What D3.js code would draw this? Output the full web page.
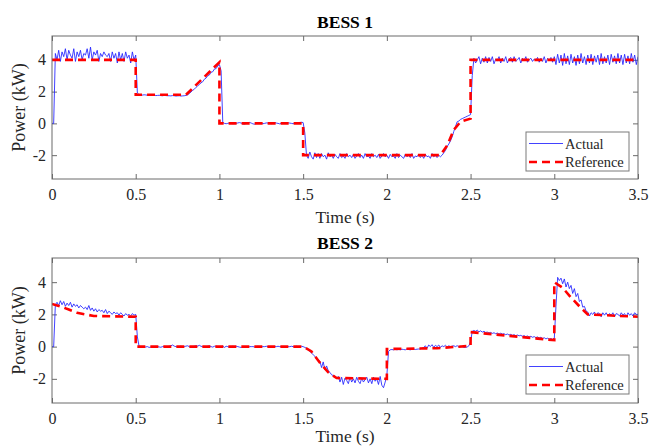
<!DOCTYPE html>
<html>
<head>
<meta charset="utf-8">
<script src="https://cdn.jsdelivr.net/npm/d3@7"></script>
<style>
	body { margin: 0; background: #fff; }
	svg text { font-family: "Liberation Serif", "Times New Roman", "DejaVu Serif", serif; }
</style>
</head>
<body>
<svg id="chart" width="649" height="448"></svg>
<script>
// time axis / value axis
var timeTicks = [0, 0.5, 1, 1.5, 2, 2.5, 3, 3.5];
var powerTicks = [-2, 0, 2, 4];
var timeRange = [0, 3.5];
var powerRange = [-3.5, 5.5];
var sampleStep = 0.01; // measured samples, one every 10 ms (rows of 0.1 s)

// BESS 1 measured power (kW)
var bess1Actual = [
	0, 0, 4.4, 4.0, 4.6, 3.9, 4.5, 4.2, 4.7, 4.0,
	4.6, 4.3, 4.1, 4.7, 3.9, 4.5, 4.2, 4.6, 4.0, 4.4,
	4.3, 4.7, 4.1, 4.8, 4.0, 4.5, 4.3, 4.6, 3.9, 4.4,
	4.2, 4.5, 4.3, 4.2, 4.4, 3.9, 4.5, 4.1, 4.4, 3.8,
	4.5, 4.0, 4.4, 3.9, 4.5, 4.1, 4.3, 3.8, 4.5, 4.0,
	4.3, 1.9, 1.82, 1.8, 1.78, 1.8, 1.79, 1.77, 1.78, 1.76,
	1.77, 1.78, 1.75, 1.76, 1.77, 1.75, 1.74, 1.76, 1.75, 1.74,
	1.74, 1.73, 1.75, 1.74, 1.72, 1.73, 1.74, 1.72, 1.73, 1.74,
	1.76, 1.80, 1.88, 1.97, 2.08, 2.15, 2.27, 2.36, 2.45, 2.55,
	2.62, 2.78, 2.85, 3.0, 3.05, 3.22, 3.25, 3.42, 3.45, 3.62,
	3.7, 3.3, 0.05, 0.0, -0.02, 0.0, 0.03, 0.01, -0.02, -0.01,
	0.0, 0.03, 0.05, 0.02, -0.03, -0.05, 0.0, 0.04, 0.06, 0.02,
	-0.03, -0.05, 0.0, 0.03, 0.05, 0.02, -0.02, 0.0, 0.03, 0.02,
	0.0, -0.02, 0.03, 0.05, 0.02, 0.0, -0.03, 0.0, 0.04, 0.02,
	0.0, 0.03, 0.02, 0.0, -0.02, 0.02, 0.04, 0.05, 0.06, 0.07,
	0.05, -0.6, -2.0, -2.2, -1.8, -2.1, -2.25, -1.85, -2.15, -1.9,
	-2.2, -1.9, -2.1, -2.0, -2.25, -1.85, -2.1, -2.0, -2.2, -1.95,
	-2.1, -2.2, -1.9, -2.15, -2.05, -2.2, -1.9, -2.1, -2.0, -2.15,
	-1.95, -2.2, -2.05, -1.9, -2.15, -2.0, -2.2, -1.9, -2.1, -2.05,
	-2.2, -1.9, -2.1, -2.0, -2.15, -1.95, -2.2, -2.05, -1.9, -2.1,
	-2.0, -2.2, -1.95, -2.1, -2.05, -2.2, -1.9, -2.15, -2.0, -2.1,
	-2.2, -1.95, -2.1, -2.0, -2.15, -1.9, -2.2, -2.05, -2.1, -1.95,
	-2.15, -2.0, -2.2, -1.95, -2.1, -2.05, -2.2, -1.9, -2.1, -2.0,
	-2.15, -2.0, -2.1, -2.0, -1.85, -1.7, -1.45, -1.3, -1.1, -0.85,
	-0.5, -0.2, 0.1, 0.15, 0.25, 0.3, 0.35, 0.4, 0.45, 0.5,
	0.55, 3.0, 4.1, 3.8, 4.0, 4.2, 3.75, 4.1, 3.85, 4.2,
	3.8, 4.15, 3.9, 4.2, 3.75, 4.05, 3.95, 4.2, 3.8, 4.1,
	3.9, 4.2, 3.8, 4.05, 4.15, 3.85, 4.2, 3.9, 4.0, 4.15,
	3.8, 4.1, 3.95, 4.2, 3.85, 4.0, 4.1, 3.9, 4.05, 3.95,
	4.15, 3.85, 4.1, 3.9, 4.2, 3.8, 4.1, 3.95, 4.15, 3.85,
	4.2, 3.7, 4.35, 3.8, 4.3, 3.65, 4.4, 3.75, 4.25, 3.7,
	4.35, 3.8, 4.2, 3.65, 4.3, 3.75, 4.4, 3.8, 4.2, 3.7,
	4.3, 3.8, 4.35, 3.7, 4.25, 3.85, 4.3, 3.7, 4.4, 3.75,
	4.2, 3.8, 4.3, 3.7, 4.35, 3.85, 4.25, 3.75, 4.4, 3.8,
	4.3, 3.7, 4.35, 3.8, 4.25, 3.75, 4.4, 3.85, 4.3, 3.7,
	4.2
];

// BESS 1 reference (break points)
var bess1RefTime = [0, 0.5, 0.5, 0.8, 1.0, 1.0, 1.5, 1.5, 2.32, 2.36, 2.40, 2.44, 2.5, 2.5, 3.5];
var bess1RefPower = [4.0, 4.0, 1.8, 1.8, 3.85, 0, 0, -2.0, -2.0, -1.4, -0.4, 0.1, 0.3, 4.0, 4.0];

// BESS 2 measured power (kW)
var bess2Actual = [
	0, 0, 2.6, 2.75, 2.55, 2.85, 2.6, 2.8, 2.5, 2.7,
	2.55, 2.75, 2.45, 2.65, 2.5, 2.6, 2.4, 2.55, 2.45, 2.35,
	2.45, 2.3, 2.55, 2.25, 2.4, 2.2, 2.35, 2.15, 2.3, 2.2,
	2.25, 2.1, 2.3, 2.05, 2.2, 2.1, 2.0, 2.15, 2.05, 2.1,
	1.95, 2.1, 2.0, 1.9, 2.05, 1.95, 2.0, 1.9, 2.05, 1.95,
	2.0, 0.6, 0.02, 0.0, -0.03, -0.05, -0.02, 0.0, -0.05, -0.03,
	0.0, -0.03, 0.02, 0.0, -0.02, -0.04, 0.0, 0.02, -0.03, 0.0,
	0.02, 0.05, 0.1, 0.03, 0.0, -0.02, 0.0, 0.03, -0.02, 0.0,
	0.03, 0.05, 0.0, -0.03, 0.0, 0.02, 0.05, 0.03, 0.08, 0.02,
	0.0, -0.05, 0.0, 0.02, 0.05, 0.0, -0.03, 0.02, 0.03, 0.0,
	-0.02, 0.0, 0.03, -0.05, 0.02, 0.0, -0.03, 0.0, 0.02, 0.0,
	0.02, 0.0, -0.03, -0.05, -0.02, 0.0, 0.0, -0.02, 0.0, 0.0,
	0.0, -0.02, 0.0, 0.02, 0.0, -0.02, 0.0, 0.0, 0.02, 0.0,
	0.0, 0.0, -0.02, 0.0, 0.0, 0.02, 0.0, 0.0, -0.02, 0.0,
	0.0, 0.0, 0.0, 0.02, 0.0, 0.0, 0.02, 0.0, 0.0, 0.02,
	0.0, -0.05, -0.1, -0.2, -0.3, -0.4, -0.5, -0.6, -0.75, -0.85,
	-0.9, -1.3, -0.95, -1.45, -1.2, -1.5, -1.6, -1.75, -1.8, -1.85,
	-2.0, -1.85, -2.2, -1.9, -2.35, -1.95, -2.1, -2.3, -1.9, -2.2,
	-2.0, -2.25, -1.9, -2.15, -2.3, -1.95, -2.2, -2.05, -1.9, -2.25,
	-2.0, -2.3, -1.9, -2.15, -2.0, -2.35, -1.85, -2.4, -2.55, -2.2,
	-1.8, -0.3, -0.2, -0.18, -0.2, -0.15, -0.2, -0.17, -0.2, -0.16,
	-0.18, -0.2, -0.15, -0.18, -0.2, -0.17, -0.15, -0.18, -0.16, -0.15,
	-0.15, -0.1, -0.05, 0.05, -0.1, 0.1, 0.0, 0.12, -0.05, 0.08,
	0.0, 0.1, -0.05, 0.05, 0.0, 0.08, -0.02, 0.05, 0.0, 0.03,
	0.05, 0.0, 0.06, -0.02, 0.02, 0.0, -0.05, -0.05, -0.02, 0.05,
	0.3, 0.95, 1.0, 0.95, 1.02, 0.92, 0.98, 0.9, 0.95, 0.88,
	0.9, 0.85, 0.88, 0.82, 0.86, 0.8, 0.84, 0.78, 0.83, 0.78,
	0.8, 0.74, 0.78, 0.72, 0.76, 0.7, 0.74, 0.68, 0.72, 0.67,
	0.7, 0.64, 0.68, 0.62, 0.66, 0.6, 0.64, 0.58, 0.62, 0.56,
	0.6, 0.54, 0.58, 0.5, 0.55, 0.48, 0.52, 0.46, 0.5, 0.45,
	0.5, 2.5, 4.3, 4.1, 4.25, 3.9, 4.2, 3.7, 4.0, 3.6,
	3.8, 3.3, 3.6, 3.1, 3.3, 2.8, 2.9, 2.45, 2.5, 2.2,
	2.15, 1.9, 2.1, 2.0, 2.15, 1.9, 2.1, 2.05, 1.85, 2.1,
	1.95, 2.1, 1.9, 2.05, 1.95, 2.1, 1.85, 2.05, 2.0, 1.9,
	2.1, 1.95, 2.05, 1.85, 2.1, 1.95, 2.05, 1.9, 2.1, 2.0,
	2.0
];

// BESS 2 reference (break points)
var bess2RefTime = [0, 0.05, 0.1, 0.15, 0.2, 0.25, 0.5, 0.5, 1.5, 1.55, 1.6, 1.65, 1.7, 2.0, 2.0, 2.3, 2.5, 2.5, 3.0, 3.0, 3.05, 3.1, 3.15, 3.2, 3.5];
var bess2RefPower = [2.65, 2.5, 2.3, 2.1, 2.0, 1.9, 1.85, 0, 0, -0.3, -1.0, -1.6, -1.95, -2.0, -0.15, -0.1, 0.05, 0.9, 0.4, 4.0, 3.65, 3.05, 2.5, 2.0, 1.85];

var legendLabels = ['Actual', 'Reference'];

var svg = d3.select('#chart');
var left = 52, right = 638;

var panels = [
	{title: 'BESS 1', top: 36, bottom: 179, actual: bess1Actual, refT: bess1RefTime, refV: bess1RefPower,
		titleY: 28, tickPad: 9.5, xLabelY: 223, legendTop: 132},
	{title: 'BESS 2', top: 258, bottom: 403, actual: bess2Actual, refT: bess2RefTime, refV: bess2RefPower,
		titleY: 249, tickPad: 10, xLabelY: 442, legendTop: 355}
];

var axisColor = '#6a6a6a';
var textColor = '#262626';

panels.forEach(function (p, k) {
	var x = d3.scaleLinear().domain(timeRange).range([left, right]);
	var y = d3.scaleLinear().domain(powerRange).range([p.bottom, p.top]);
	var g = svg.append('g');

	var clipId = 'clip' + k;
	svg.append('clipPath').attr('id', clipId)
		.append('rect')
		.attr('x', left).attr('y', p.top)
		.attr('width', right - left).attr('height', p.bottom - p.top);

	// axes: ticks point inward on every side
	var styleAxis = function (sel) {
		sel.select('.domain').remove();
		sel.selectAll('.tick line').attr('stroke', axisColor);
		sel.selectAll('.tick text')
			.attr('fill', textColor)
			.style('font-family', '"Liberation Serif", "DejaVu Serif", serif')
			.style('font-size', '16px');
	};

	g.append('g').attr('transform', 'translate(0,' + p.bottom + ')')
		.call(d3.axisBottom(x).tickValues(timeTicks).tickSize(-5).tickPadding(p.tickPad)
			.tickFormat(function (d) { return String(d); }))
		.call(styleAxis);
	g.append('g').attr('transform', 'translate(0,' + p.top + ')')
		.call(d3.axisTop(x).tickValues(timeTicks).tickSize(-5).tickFormat(''))
		.call(styleAxis);
	g.append('g').attr('transform', 'translate(' + left + ',0)')
		.call(d3.axisLeft(y).tickValues(powerTicks).tickSize(-5).tickPadding(6)
			.tickFormat(function (d) { return String(d); }))
		.call(styleAxis);
	g.append('g').attr('transform', 'translate(' + right + ',0)')
		.call(d3.axisRight(y).tickValues(powerTicks).tickSize(-5).tickFormat(''))
		.call(styleAxis);

	// lines
	var actualLine = d3.line()
		.x(function (d, i) { return x(i * sampleStep); })
		.y(function (d) { return y(d); });
	var refLine = d3.line()
		.x(function (d, i) { return x(p.refT[i]); })
		.y(function (d) { return y(d); });

	var plot = g.append('g').attr('clip-path', 'url(#' + clipId + ')');
	plot.append('path')
		.datum(p.actual)
		.attr('d', actualLine)
		.attr('fill', 'none')
		.attr('stroke', '#2020ff')
		.attr('stroke-width', 0.85)
		.attr('stroke-linejoin', 'round');
	plot.append('path')
		.datum(p.refV)
		.attr('d', refLine)
		.attr('fill', 'none')
		.attr('stroke', '#ff0000')
		.attr('stroke-width', 2.6)
		.attr('stroke-dasharray', '8,5');

	// box
	g.append('rect')
		.attr('x', left).attr('y', p.top)
		.attr('width', right - left).attr('height', p.bottom - p.top)
		.attr('fill', 'none')
		.attr('stroke', axisColor)
		.attr('stroke-width', 1);

	// titles and labels
	g.append('text')
		.attr('x', (left + right) / 2).attr('y', p.titleY)
		.attr('text-anchor', 'middle')
		.attr('font-weight', 'bold')
		.attr('font-size', '17.5px')
		.attr('fill', '#000')
		.text(p.title);
	g.append('text')
		.attr('x', (left + right) / 2).attr('y', p.xLabelY)
		.attr('text-anchor', 'middle')
		.attr('font-size', '17.5px')
		.attr('fill', textColor)
		.text('Time (s)');
	g.append('text')
		.attr('transform', 'translate(25,' + ((p.top + p.bottom) / 2) + ') rotate(-90)')
		.attr('text-anchor', 'middle')
		.attr('font-size', '18px')
		.attr('fill', textColor)
		.text('Power (kW)');

	// legend
	var lg = g.append('g').attr('transform', 'translate(526,' + p.legendTop + ')');
	lg.append('rect')
		.attr('width', 103).attr('height', 39)
		.attr('fill', '#fff')
		.attr('stroke', '#7a7a7a')
		.attr('stroke-width', 1);
	legendLabels.forEach(function (name, j) {
		var ly = 11.5 + j * 18.5;
		lg.append('line')
			.attr('x1', 3).attr('x2', 37).attr('y1', ly).attr('y2', ly)
			.attr('stroke', j === 0 ? '#2020ff' : '#ff0000')
			.attr('stroke-width', j === 0 ? 0.85 : 2.6)
			.attr('stroke-dasharray', j === 0 ? null : '8,5');
		lg.append('text')
			.attr('x', 39).attr('y', ly + 5)
			.attr('font-size', '14.5px')
			.attr('fill', textColor)
			.text(name);
	});
});
</script>
</body>
</html>
